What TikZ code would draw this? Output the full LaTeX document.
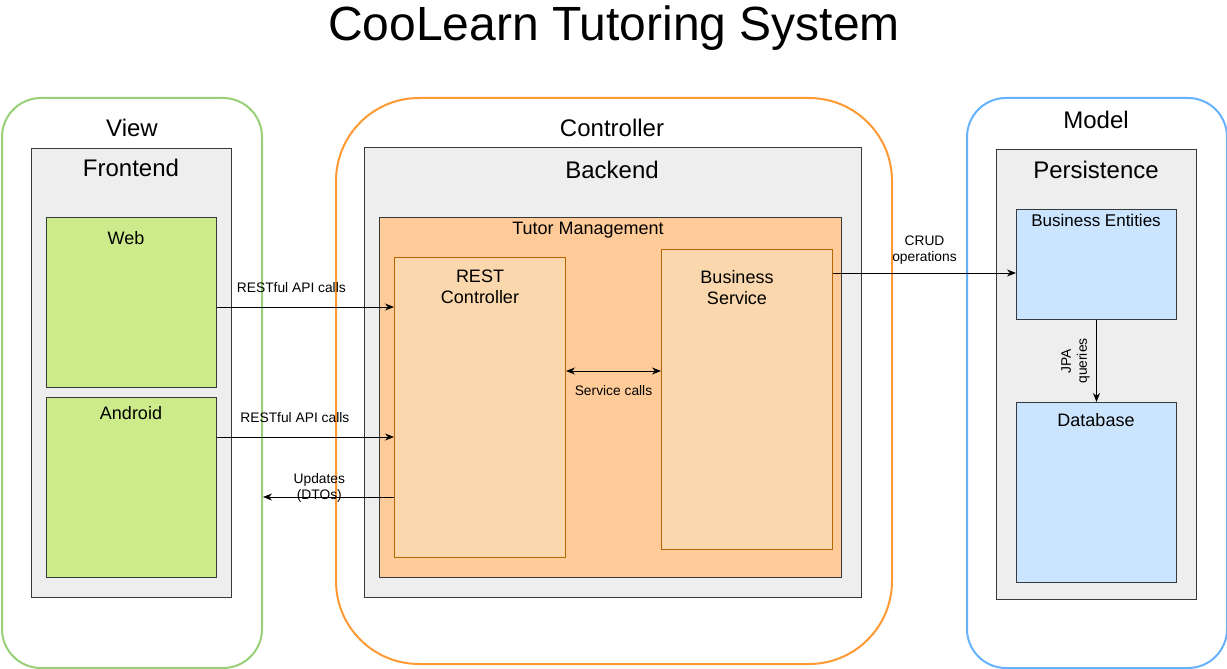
\documentclass[tikz,border=0pt]{standalone}
\usepackage{fontspec}
\setmainfont{Liberation Sans}
\usepackage{xcolor}
\usetikzlibrary{arrows.meta, positioning}

\definecolor{verdeview}{HTML}{97D077}
\definecolor{laranjactrl}{HTML}{FF9933}
\definecolor{azulmodel}{HTML}{66B2FF}
\definecolor{cinzafundo}{HTML}{EEEEEE}
\definecolor{bordaescura}{HTML}{36393D}
\definecolor{verdeweb}{HTML}{CDEB8B}
\definecolor{laranjatm}{HTML}{FFCC99}
\definecolor{laranjaclaro}{HTML}{FAD7AC}
\definecolor{bordalaranja}{HTML}{B46504}
\definecolor{azulclaro}{HTML}{CCE5FF}

\begin{document}
\begin{tikzpicture}[x=1pt, y=-1pt,
    camada/.style={draw=#1, line width=2pt, anchor=north west, inner sep=0pt},
    caixa/.style={draw=bordaescura, fill=#1, line width=1pt, anchor=north west, inner sep=0pt},
    modulo/.style={draw=bordalaranja, fill=laranjaclaro, line width=1pt, anchor=north west, inner sep=0pt},
    txtgrande/.style={font=\fontsize{24}{29}\selectfont},
    txtmedio/.style={font=\fontsize{18}{21}\selectfont, align=center},
    rotulo/.style={font=\fontsize{13.8}{16}\selectfont, align=center},
    seta/.style={-{Stealth[length=9pt, width=7pt]}, line width=0.9pt},
    setadupla/.style={{Stealth[length=9pt, width=7pt]}-{Stealth[length=9pt, width=7pt]}, line width=0.9pt}]
        \useasboundingbox (0,0) rectangle (1227,669);
        \node[font=\fontsize{48}{58}\selectfont] (titulo) at (614,28) {CooLearn Tutoring System};
        % Camadas MVC
        \node[camada=verdeview, rounded corners=39pt, minimum width=260pt, minimum height=570pt] (view) at (1,97) {};
        \node[camada=laranjactrl, rounded corners=83pt, minimum width=556pt, minimum height=566pt] (ctrl) at (335,97) {};
        \node[camada=azulmodel, rounded corners=39pt, minimum width=260pt, minimum height=570pt] (model) at (966,97) {};
        \node[txtgrande] (lview) at (132,128) {View};
        \node[txtgrande] (lctrl) at (612,128) {Controller};
        \node[txtgrande] (lmodel) at (1096,120) {Model};
        % Blocos
        \node[caixa=cinzafundo, minimum width=200pt, minimum height=449pt] (front) at (31,148) {};
        \node[caixa=cinzafundo, minimum width=497pt, minimum height=450pt] (back) at (364,147) {};
        \node[caixa=cinzafundo, minimum width=200pt, minimum height=450pt] (persist) at (996,149) {};
        \node[txtgrande] (lfront) at (131,168) {Frontend};
        \node[txtgrande] (lback) at (612,170) {Backend};
        \node[txtgrande] (lpersist) at (1096,170) {Persistence};
        % Componentes
        \node[caixa=verdeweb, minimum width=170pt, minimum height=170pt] (web) at (46,217) {};
        \node[caixa=verdeweb, minimum width=170pt, minimum height=180pt] (android) at (46,397) {};
        \node[caixa=laranjatm, minimum width=462pt, minimum height=360pt] (tutor) at (379,217) {};
        \node[modulo, minimum width=171pt, minimum height=300pt] (rest) at (394,257) {};
        \node[modulo, minimum width=171pt, minimum height=300pt] (servico) at (661,249) {};
        \node[caixa=azulclaro, minimum width=160pt, minimum height=110pt] (entidades) at (1016,209) {};
        \node[caixa=azulclaro, minimum width=160pt, minimum height=180pt] (banco) at (1016,402) {};
        \node[txtmedio] (lweb) at (126,238) {Web};
        \node[txtmedio] (landroid) at (131,413) {Android};
        \node[txtmedio] (ltutor) at (588,230) {Tutor Management};
        \node[txtmedio] (lrest) at (480,287) {REST\\Controller};
        \node[txtmedio] (lservico) at (737,288) {Business\\Service};
        \node[txtmedio, font=\fontsize{17}{21}\selectfont] (lentidades) at (1096,220) {Business Entities};
        \node[txtmedio] (lbanco) at (1096,420) {Database};
        % Chamadas
        \draw[seta] (web.east |- 0,307) -- (rest.west |- 0,307)
          node[rotulo, pos=0.42, yshift=19pt] {RESTful API calls};
        \draw[seta] (android.east |- 0,437) -- (rest.west |- 0,437)
          node[rotulo, pos=0.44, yshift=19pt] {RESTful API calls};
        \draw[seta] (rest.west |- 0,497) -- (view.east |- 0,497)
          node[rotulo, pos=0.57, yshift=9pt] {Updates\\(DTOs)};
        \draw[setadupla] (rest.east |- 0,371) -- (servico.west |- 0,371)
          node[rotulo, midway, yshift=-20pt] {Service calls};
        \draw[seta] (servico.east |- 0,273) -- (entidades.west |- 0,273)
          node[rotulo, midway, yshift=23pt] {CRUD\\operations};
        \draw[seta] (entidades.south) -- (banco.north)
          node[rotulo, midway, rotate=90, yshift=21pt] {JPA\\queries};
      \end{tikzpicture}
\end{document}
